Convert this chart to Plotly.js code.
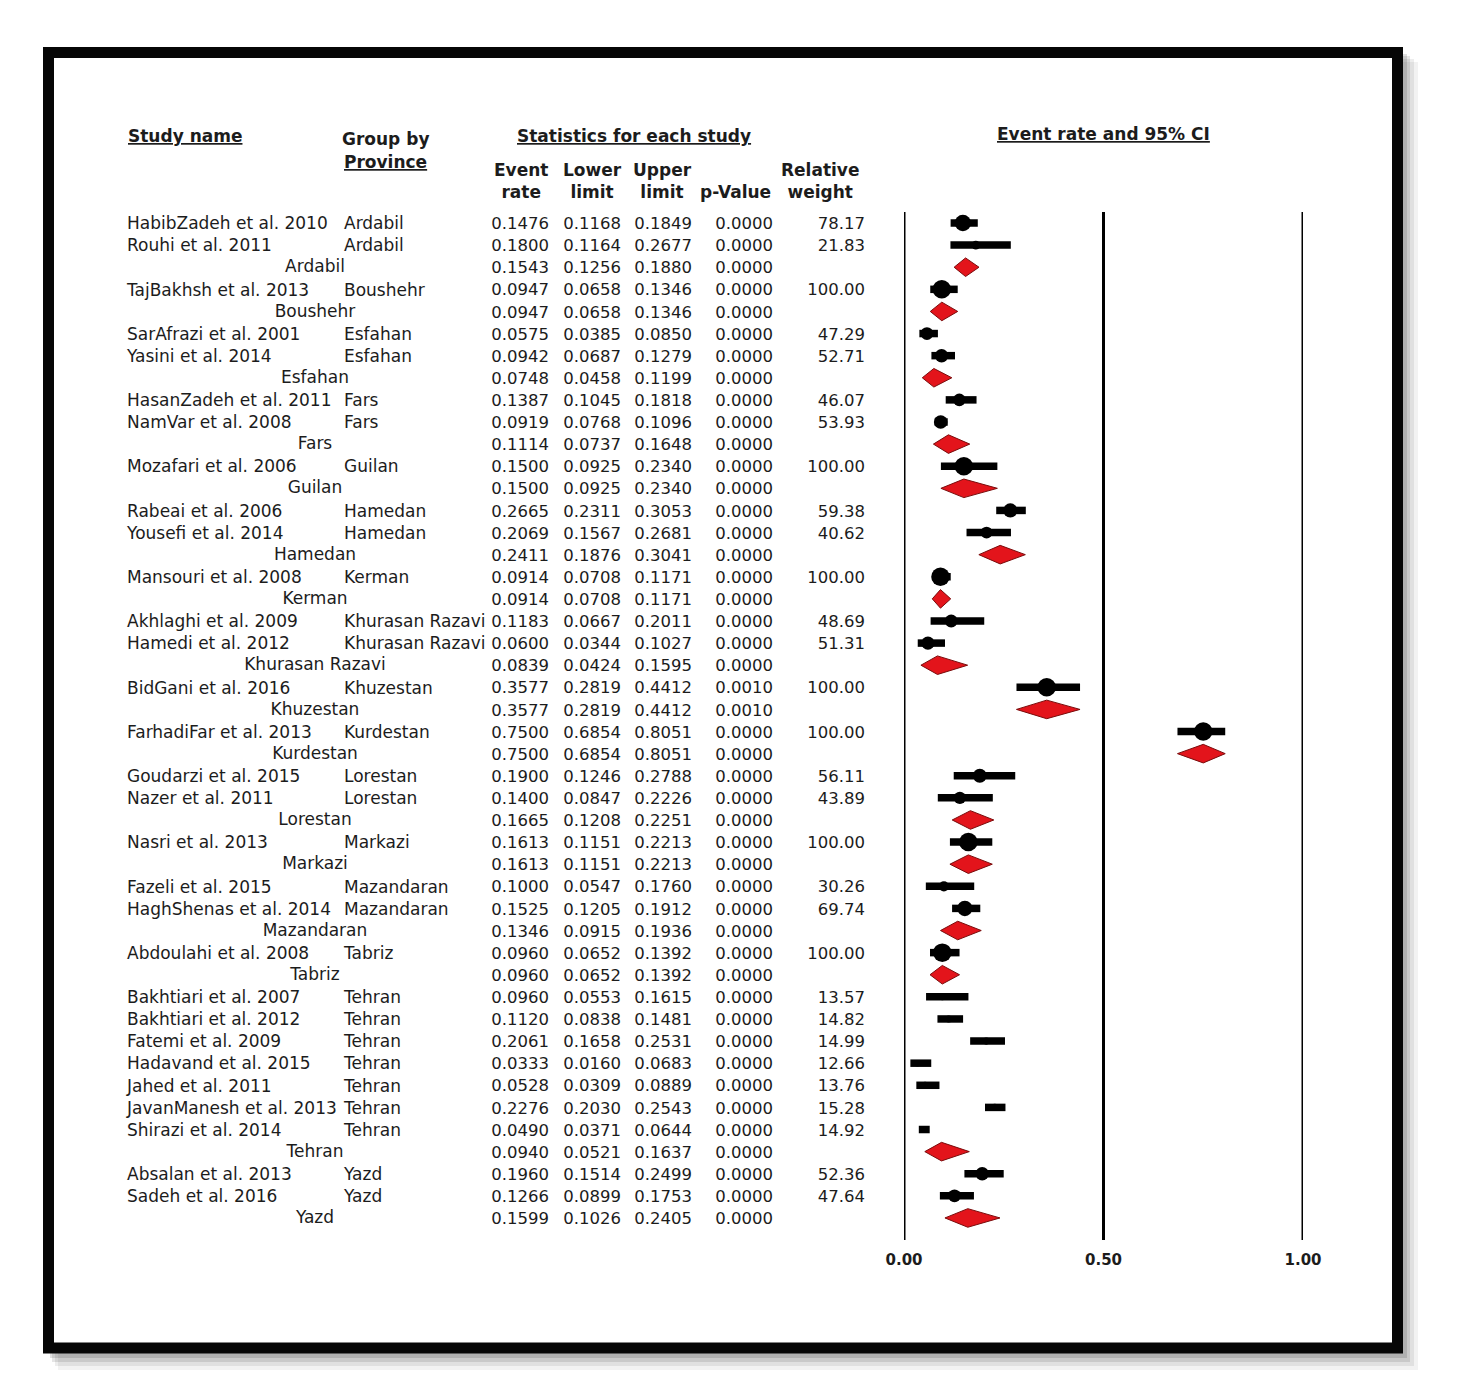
<!DOCTYPE html>
<html><head><meta charset="utf-8">
<script src="https://cdn.plot.ly/plotly-3.0.1.min.js"></script>
<style>html,body{margin:0;padding:0;background:#fff}#chart{width:1461px;height:1387px}</style>
</head><body><div id="chart"></div>
<script>
// ---------------- DATA ----------------
const studyNames = ["HabibZadeh et al. 2010","Rouhi et al. 2011","TajBakhsh et al. 2013","SarAfrazi et al. 2001","Yasini et al. 2014","HasanZadeh et al. 2011","NamVar et al. 2008","Mozafari et al. 2006","Rabeai et al. 2006","Yousefi et al. 2014","Mansouri et al. 2008","Akhlaghi et al. 2009","Hamedi et al. 2012","BidGani et al. 2016","FarhadiFar et al. 2013","Goudarzi et al. 2015","Nazer et al. 2011","Nasri et al. 2013","Fazeli et al. 2015","HaghShenas et al. 2014","Abdoulahi et al. 2008","Bakhtiari et al. 2007","Bakhtiari et al. 2012","Fatemi et al. 2009","Hadavand et al. 2015","Jahed et al. 2011","JavanManesh et al. 2013","Shirazi et al. 2014","Absalan et al. 2013","Sadeh et al. 2016"];
const studyProvince = ["Ardabil","Ardabil","Boushehr","Esfahan","Esfahan","Fars","Fars","Guilan","Hamedan","Hamedan","Kerman","Khurasan Razavi","Khurasan Razavi","Khuzestan","Kurdestan","Lorestan","Lorestan","Markazi","Mazandaran","Mazandaran","Tabriz","Tehran","Tehran","Tehran","Tehran","Tehran","Tehran","Tehran","Yazd","Yazd"];
const studyRate  = [0.1476,0.1800,0.0947,0.0575,0.0942,0.1387,0.0919,0.1500,0.2665,0.2069,0.0914,0.1183,0.0600,0.3577,0.7500,0.1900,0.1400,0.1613,0.1000,0.1525,0.0960,0.0960,0.1120,0.2061,0.0333,0.0528,0.2276,0.0490,0.1960,0.1266];
const studyLower = [0.1168,0.1164,0.0658,0.0385,0.0687,0.1045,0.0768,0.0925,0.2311,0.1567,0.0708,0.0667,0.0344,0.2819,0.6854,0.1246,0.0847,0.1151,0.0547,0.1205,0.0652,0.0553,0.0838,0.1658,0.0160,0.0309,0.2030,0.0371,0.1514,0.0899];
const studyUpper = [0.1849,0.2677,0.1346,0.0850,0.1279,0.1818,0.1096,0.2340,0.3053,0.2681,0.1171,0.2011,0.1027,0.4412,0.8051,0.2788,0.2226,0.2213,0.1760,0.1912,0.1392,0.1615,0.1481,0.2531,0.0683,0.0889,0.2543,0.0644,0.2499,0.1753];
const studyP     = [0,0,0,0,0,0,0,0,0,0,0,0,0,0.0010,0,0,0,0,0,0,0,0,0,0,0,0,0,0,0,0];
const studyWeight= [78.17,21.83,100.00,47.29,52.71,46.07,53.93,100.00,59.38,40.62,100.00,48.69,51.31,100.00,100.00,56.11,43.89,100.00,30.26,69.74,100.00,13.57,14.82,14.99,12.66,13.76,15.28,14.92,52.36,47.64];

const groupNames = ["Ardabil","Boushehr","Esfahan","Fars","Guilan","Hamedan","Kerman","Khurasan Razavi","Khuzestan","Kurdestan","Lorestan","Markazi","Mazandaran","Tabriz","Tehran","Yazd"];
const groupRate  = [0.1543,0.0947,0.0748,0.1114,0.1500,0.2411,0.0914,0.0839,0.3577,0.7500,0.1665,0.1613,0.1346,0.0960,0.0940,0.1599];
const groupLower = [0.1256,0.0658,0.0458,0.0737,0.0925,0.1876,0.0708,0.0424,0.2819,0.6854,0.1208,0.1151,0.0915,0.0652,0.0521,0.1026];
const groupUpper = [0.1880,0.1346,0.1199,0.1648,0.2340,0.3041,0.1171,0.1595,0.4412,0.8051,0.2251,0.2213,0.1936,0.1392,0.1637,0.2405];
const groupP     = [0,0,0,0,0,0,0,0,0.0010,0,0,0,0,0,0,0];

const tickValues = [0, 0.5, 1];
const tickLabels = ["0.00", "0.50", "1.00"];

// ---------------- LAYOUT HELPERS ----------------
const W = 1461, H = 1387;
const ROW0 = 223, ROWH = 22.11;
const px = v => v / W;
const py = v => 1 - v / H;
const yTop = 1 + (0 - ROW0) / ROWH;
const yBot = 1 + (H - ROW0) / ROWH;

// build row order
const rows = [];
let rr = 1;
groupNames.forEach((g, gi) => {
  studyProvince.forEach((p, si) => { if (p === g) rows.push({kind: 's', i: si, row: rr++}); });
  rows.push({kind: 'g', i: gi, row: rr++});
});
const lastRow = rr - 1;

const FONT = "DejaVu Sans, Verdana, sans-serif";
const TXT = "#1c1c1c";
const f4 = v => v.toFixed(4);
const TDY = 0.09; // small downward nudge of table text

function textTrace(xpos, ys, texts, pos, size) {
  return {
    type: 'scatter', mode: 'text', xaxis: 'x2', yaxis: 'y',
    x: ys.map(() => xpos), y: ys.map(v => v + TDY), text: texts, textposition: pos,
    textfont: {family: FONT, size: size, color: TXT},
    hoverinfo: 'skip', showlegend: false, cliponaxis: false
  };
}

const sRows = rows.filter(d => d.kind === 's');
const gRows = rows.filter(d => d.kind === 'g');
const allY = rows.map(d => d.row);
const rateTxt = rows.map(d => f4(d.kind === 's' ? studyRate[d.i] : groupRate[d.i]));
const lowTxt  = rows.map(d => f4(d.kind === 's' ? studyLower[d.i] : groupLower[d.i]));
const upTxt   = rows.map(d => f4(d.kind === 's' ? studyUpper[d.i] : groupUpper[d.i]));
const pTxt    = rows.map(d => f4(d.kind === 's' ? studyP[d.i] : groupP[d.i]));

const NAMESZ = 17, NUMSZ = 16.5;
const traces = [];
traces.push(textTrace(127, sRows.map(d => d.row), sRows.map(d => studyNames[d.i]), 'middle right', NAMESZ));
traces.push(textTrace(344, sRows.map(d => d.row), sRows.map(d => studyProvince[d.i]), 'middle right', NAMESZ));
traces.push(textTrace(315, gRows.map(d => d.row - 0.05), gRows.map(d => groupNames[d.i]), 'middle center', NAMESZ));
traces.push(textTrace(549, allY, rateTxt, 'middle left', NUMSZ));
traces.push(textTrace(621, allY, lowTxt, 'middle left', NUMSZ));
traces.push(textTrace(692, allY, upTxt, 'middle left', NUMSZ));
traces.push(textTrace(773, allY, pTxt, 'middle left', NUMSZ));
traces.push(textTrace(865, sRows.map(d => d.row), sRows.map(d => studyWeight[d.i].toFixed(2)), 'middle left', NUMSZ));

// study markers with CI bars
traces.push({
  type: 'scatter', mode: 'markers', xaxis: 'x', yaxis: 'y',
  x: sRows.map(d => studyRate[d.i]),
  y: sRows.map(d => d.row),
  marker: {symbol: 'circle', color: '#000', opacity: 1,
    size: sRows.map(d => 18.5 * Math.sqrt(studyWeight[d.i] / 100)), line: {width: 0}},
  error_x: {type: 'data', symmetric: false,
    array: sRows.map(d => studyUpper[d.i] - studyRate[d.i]),
    arrayminus: sRows.map(d => studyRate[d.i] - studyLower[d.i]),
    thickness: 7.5, width: 0, color: '#000'},
  hoverinfo: 'skip', showlegend: false, cliponaxis: false
});

// subgroup diamonds
const dx = [], dy = [];
const DH = 0.42;
gRows.forEach(d => {
  const r = d.row, i = d.i;
  dx.push(groupLower[i], groupRate[i], groupUpper[i], groupRate[i], groupLower[i], null);
  dy.push(r, r - DH, r, r + DH, r, null);
});
traces.push({
  type: 'scatter', mode: 'lines', xaxis: 'x', yaxis: 'y',
  x: dx, y: dy, fill: 'toself', fillcolor: '#e3141b',
  line: {color: '#7a0c0c', width: 1}, connectgaps: false,
  hoverinfo: 'skip', showlegend: false, cliponaxis: false
});

// ---------------- SHAPES ----------------
const shapes = [];
// soft frame shadow
[[58, 62, 1418, 1370, 0.05], [55, 59, 1414, 1366, 0.07], [52, 56, 1410, 1362, 0.10], [50, 54, 1407, 1358, 0.12]].forEach(s => {
  shapes.push({type: 'rect', xref: 'paper', yref: 'paper', layer: 'below',
    x0: px(s[0]), x1: px(s[2]), y0: py(s[1]), y1: py(s[3]), fillcolor: 'rgba(0,0,0,' + s[4] + ')', line: {width: 0}});
});
// frame
shapes.push({type: 'rect', xref: 'paper', yref: 'paper', layer: 'below',
  x0: px(48.5), x1: px(1397.5), y0: py(52.5), y1: py(1348), fillcolor: '#fff', line: {color: '#060606', width: 11}});
// vertical reference lines
tickValues.forEach(v => shapes.push({type: 'line', xref: 'x', yref: 'y', layer: 'below',
  x0: v, x1: v, y0: 0.5, y1: lastRow + 1, line: {color: '#000', width: 3}}));

// ---------------- HEADERS ----------------
const hf = {family: FONT, size: 17, color: TXT, weight: 'bold'};
function ann(text, x, y, xanchor) {
  return {text, x: px(x), y: py(y), xref: 'paper', yref: 'paper', xanchor, yanchor: 'middle',
    showarrow: false, font: hf, align: 'center'};
}
const annotations = [
  ann('<u>Study name</u>', 126, 136, 'left'),
  ann('Group by', 340, 139, 'left'),
  ann('<u>Province</u>', 342, 162, 'left'),
  ann('<u>Statistics for each study</u>', 634, 136, 'center'),
  ann('Event<br>rate', 521, 181, 'center'),
  ann('Lower<br>limit', 592, 181, 'center'),
  ann('Upper<br>limit', 662, 181, 'center'),
  ann('p-Value', 736, 192, 'center'),
  ann('Relative<br>weight', 820, 181, 'center'),
  ann('<u>Event rate and 95% CI</u>', 1103, 134, 'center')
];

const layout = {
  width: W, height: H,
  margin: {l: 0, r: 0, t: 0, b: 0, pad: 0},
  paper_bgcolor: '#fff', plot_bgcolor: 'rgba(0,0,0,0)',
  showlegend: false,
  xaxis: {domain: [px(904), px(1303)], range: [0, 1], anchor: 'free', position: py(1249),
    tickvals: tickValues, ticktext: tickLabels, ticks: '', showline: false, showgrid: false, zeroline: false,
    tickfont: {family: FONT, size: 15, color: TXT, weight: 'bold'}, fixedrange: true},
  xaxis2: {domain: [0, 1], range: [0, W], anchor: 'y', visible: false, fixedrange: true},
  yaxis: {domain: [0, 1], range: [yBot, yTop], visible: false, showgrid: false, zeroline: false, fixedrange: true},
  shapes, annotations
};

Plotly.newPlot('chart', traces, layout, {staticPlot: true, displayModeBar: false});
</script>
</body></html>
